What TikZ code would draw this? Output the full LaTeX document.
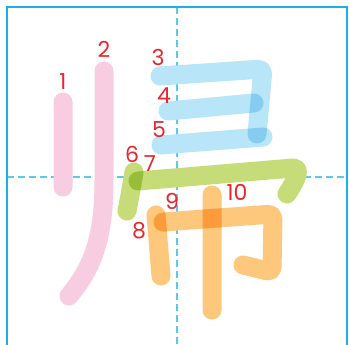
\documentclass[tikz,border=0pt]{standalone}
\usepackage{fontspec}
\setmainfont{Poppins}
\definecolor{frameblue}{HTML}{1CB0E8}
\definecolor{gridblue}{HTML}{5BC8F0}
\definecolor{spink}{HTML}{F8CDE1}
\definecolor{sblue}{HTML}{B8E5F8}
\definecolor{sgreen}{HTML}{C6DC78}
\definecolor{sorange}{HTML}{FDC77C}
\definecolor{numred}{HTML}{E8262E}
\begin{document}
\begin{tikzpicture}[x=1pt,y=-1pt,
  stroke/.style={line width=19pt,line cap=round,line join=round},
  num/.style={text=numred,font=\fontsize{22}{22}\selectfont,inner sep=0pt}]
\useasboundingbox (0,0) rectangle (349,345);
\clip (0,0) rectangle (349,345);
\fill[white] (0,0) rectangle (349,345);
% grid
\draw[gridblue,line width=1.5pt,dash pattern=on 7pt off 4pt] (177,7) -- (177,347);
\draw[gridblue,line width=1.5pt,dash pattern=on 7pt off 4pt] (7,177) -- (347,177);
\draw[frameblue,line width=2pt] (7,7) rectangle (347,347);
% strokes
\begin{scope}[blend group=multiply]
\draw[stroke,spink] (63,102) -- (63,187);
\draw[stroke,spink] (104,71) -- (104,180) .. controls (104,240) and (92,268) .. (69,296);
\draw[stroke,sblue,rounded corners=5pt] (160,76) -- (263,69) -- (257,134);
\draw[stroke,sblue] (168,111) -- (254,103);
\draw[stroke,sblue] (161,145) -- (263,137);
\draw[stroke,sgreen] (134,172) .. controls (131,190) .. (127,211);
\draw[stroke,sgreen] (138,181) -- (293,168) .. controls (300,168) and (299,176) .. (287,194);
\draw[stroke,sorange] (156,215) -- (161,276);
\draw[stroke,sorange,rounded corners=5pt] (163,222) -- (273,214) -- (272,272) -- (243,265);
\draw[stroke,sorange] (212,195) -- (212,310);
\end{scope}
% numbers
\node[num] (n1) at (63,82) {1};
\node[num] (n2) at (104,49) {2};
\node[num] (n3) at (158,57) {3};
\node[num] (n4) at (164,96) {4};
\node[num] (n5) at (159,130) {5};
\node[num] (n6) at (132,154) {6};
\node[num] (n7) at (150,164) {7};
\node[num] (n8) at (139,231) {8};
\node[num] (n9) at (172,201) {9};
\node[num] (n10) at (237,192) {10};
\end{tikzpicture}
\end{document}
